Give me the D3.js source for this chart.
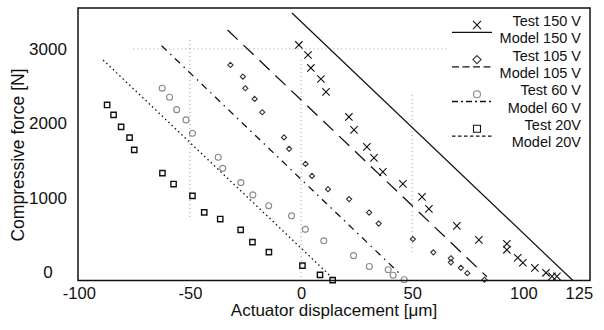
<!DOCTYPE html>
<html>
<head>
<meta charset="utf-8">
<script src="https://cdn.jsdelivr.net/npm/d3@7/dist/d3.min.js"></script>
<style>
  body { margin: 0; background: #fff; }
  svg { display: block; font-family: "Liberation Sans", Arial, sans-serif; }
</style>
</head>
<body>
<svg width="604" height="330"></svg>
<script>
// values: [displacement um, force N]
const test150 = [[-1.0,3054],[3.1,2919],[4.4,2745],[8.9,2597],[11.2,2423],[21.5,2087],[23.8,1913],
  [29.6,1685],[32.8,1537],[36.8,1349],[45.8,1188],[54.4,1013],[57.5,852],[70.1,624],[80.0,436],
  [92.6,383],[92.6,302],[97.5,195],[99.8,128],[105.2,60],[110.2,-7],[112.9,-55],[115.1,-55]];
const test105 = [[-31.8,2785],[-26.2,2628],[-25.1,2472],[-20.9,2329],[-17.5,2150],[-7.7,1812],
  [-5.4,1658],[2.0,1456],[4.9,1295],[12.1,1117],[21.6,983],[30.6,803],[34.9,655],[50.3,446],
  [59.5,268],[67.4,188],[67.4,134],[71.9,60],[74.8,-11],[82.5,-100]];
const test60 = [[-62.5,2473],[-59.2,2352],[-56.0,2185],[-51.8,2047],[-48.9,1868],[-37.3,1546],
  [-35.3,1396],[-27.1,1205],[-21.7,1040],[-14.6,895],[-4.3,758],[1.9,577],[10.2,423],[23.6,224],
  [30.7,78],[39.2,34],[41.4,-40],[46.4,-100]];
const test20 = [[-87.3,2248],[-84.4,2114],[-81.0,1953],[-77.2,1809],[-75.1,1644],[-62.4,1332],
  [-57.4,1185],[-48.9,1027],[-43.6,805],[-36.4,715],[-27.2,570],[-21.9,405],[-14.5,271],
  [0.6,90],[8.5,-34],[14.2,-105]];

// model lines (straight, start and end)
const model150 = [[-4.1,3483],[122.3,-110]];
const model105 = [[-33.1,3255],[83.6,-60]];
const model60 = [[-62.8,3044],[45.5,-50]];
const model20 = [[-89.1,2852],[15.3,-110]];

const xTicks = [-100, -50, 0, 50, 100, 125];
const yTicks = [0, 1000, 2000, 3000];

// leftover dotted grid pieces in the scan: [x1,y1,x2,y2]
const gridBits = [[-75.5,3000,65.5,3000],[-50,3120,-50,705],[0,2850,0,-110],[50,2380,50,235]];

const legendLabels = ["Test 150 V","Model 150 V","Test 105 V","Model 105 V",
                      "Test 60 V","Model 60 V","Test 20V","Model 20V"];

// ---------------------------------------------------------------
const svg = d3.select("svg");
const plotL = 78, plotR = 590, plotT = 8, plotB = 280.5;

const x = d3.scaleLinear().domain([-100.4, 130]).range([plotL, plotR]);
const y = d3.scaleLinear().domain([-110, 3550]).range([plotB, plotT]);

const markerStyles = {
  x:       {type: d3.symbolX,        size: 37, legSize: 44, stroke: "#111", width: 1.1},
  diamond: {type: d3.symbolDiamond2, size: 17, legSize: 42, stroke: "#333", width: 1.1},
  circle:  {type: d3.symbolCircle,   size: 28, legSize: 38, stroke: "#888", width: 1.1},
  square:  {type: d3.symbolSquare2,  size: 36, legSize: 62, stroke: "#111", width: 1.4}
};
const lineStyles = {
  solid:   {dash: null,        legDash: null,       width: 1.2},
  dashed:  {dash: "14,8",      legDash: "7,3.5",    width: 1.3},
  dashdot: {dash: "7,5,1.5,5", legDash: "6,3,2,3",  width: 1.3},
  dotted:  {dash: "1.5,3",     legDash: "3.5,2.5",  width: 1.3}
};

const series = [
  {data: test150, marker: "x",       model: model150, line: "solid"},
  {data: test105, marker: "diamond", model: model105, line: "dashed"},
  {data: test60,  marker: "circle",  model: model60,  line: "dashdot"},
  {data: test20,  marker: "square",  model: model20,  line: "dotted"}
];

// grid remnants
svg.append("g").selectAll("line")
  .data(gridBits)
  .join("line")
    .attr("x1", d => x(d[0])).attr("y1", d => y(d[1]))
    .attr("x2", d => x(d[2])).attr("y2", d => y(d[3]))
    .attr("stroke", "#999")
    .attr("stroke-width", 1)
    .attr("stroke-dasharray", "1,3");

// model lines
const line = d3.line().x(d => x(d[0])).y(d => y(d[1]));
svg.append("g").selectAll("path")
  .data(series)
  .join("path")
    .attr("d", d => line(d.model))
    .attr("fill", "none")
    .attr("stroke", "#111")
    .attr("stroke-width", d => lineStyles[d.line].width)
    .attr("stroke-dasharray", d => lineStyles[d.line].dash);

// test markers
series.forEach(s => {
  const st = markerStyles[s.marker];
  svg.append("g").selectAll("path")
    .data(s.data)
    .join("path")
      .attr("transform", d => `translate(${x(d[0])},${y(d[1])})`)
      .attr("d", d3.symbol(st.type, st.size))
      .attr("fill", "none")
      .attr("stroke", st.stroke)
      .attr("stroke-width", st.width);
});

// frame
svg.append("rect")
  .attr("x", plotL).attr("y", plotT)
  .attr("width", plotR - plotL).attr("height", plotB - plotT)
  .attr("fill", "none")
  .attr("stroke", "#111")
  .attr("stroke-width", 1.5);

// axes (labels only, the scan shows no visible ticks)
const xAxis = svg.append("g")
  .attr("transform", `translate(0,${plotB})`)
  .call(d3.axisBottom(x).tickValues(xTicks).tickSize(0).tickPadding(7).tickFormat(d => String(d)));
xAxis.select(".domain").remove();
xAxis.selectAll("text")
  .attr("font-size", 16.5).attr("font-family", "Liberation Sans, Arial, sans-serif").attr("fill", "#111");

const yAxis = svg.append("g")
  .attr("transform", `translate(48,0)`)
  .call(d3.axisLeft(y).tickValues(yTicks).tickSize(0).tickPadding(0).tickFormat(d => String(d)));
yAxis.select(".domain").remove();
yAxis.selectAll("text")
  .attr("text-anchor", "middle")
  .attr("font-size", 17).attr("font-family", "Liberation Sans, Arial, sans-serif").attr("fill", "#111");

svg.append("text")
  .attr("x", 334).attr("y", 316)
  .attr("text-anchor", "middle")
  .attr("font-size", 17)
  .attr("fill", "#111")
  .text("Actuator displacement [μm]");

svg.append("text")
  .attr("transform", "translate(24,155) rotate(-90)")
  .attr("text-anchor", "middle")
  .attr("font-size", 17.5)
  .attr("fill", "#111")
  .text("Compressive force [N]");

// legend: marker row then line row for each voltage
const legend = svg.append("g");
const rowH = 17.3, legTop = 21, textX = 581, symX = 477;
legendLabels.forEach((label, i) => {
  const ty = legTop + i * rowH;
  legend.append("text")
    .attr("x", textX).attr("y", ty)
    .attr("dy", "0.35em")
    .attr("text-anchor", "end")
    .attr("font-size", 14.5)
    .attr("fill", "#111")
    .text(label);
  const s = series[Math.floor(i / 2)];
  if (i % 2 == 0) {
    const st = markerStyles[s.marker];
    legend.append("path")
      .attr("transform", `translate(${symX},${ty + 4})`)
      .attr("d", d3.symbol(st.type, st.legSize))
      .attr("fill", "none")
      .attr("stroke", st.stroke)
      .attr("stroke-width", 1.1);
  } else {
    const ls = lineStyles[s.line];
    legend.append("line")
      .attr("x1", 452).attr("x2", 492)
      .attr("y1", ty - 6).attr("y2", ty - 6)
      .attr("stroke", "#111")
      .attr("stroke-width", 1.3)
      .attr("stroke-dasharray", ls.legDash);
  }
});
</script>
</body>
</html>
